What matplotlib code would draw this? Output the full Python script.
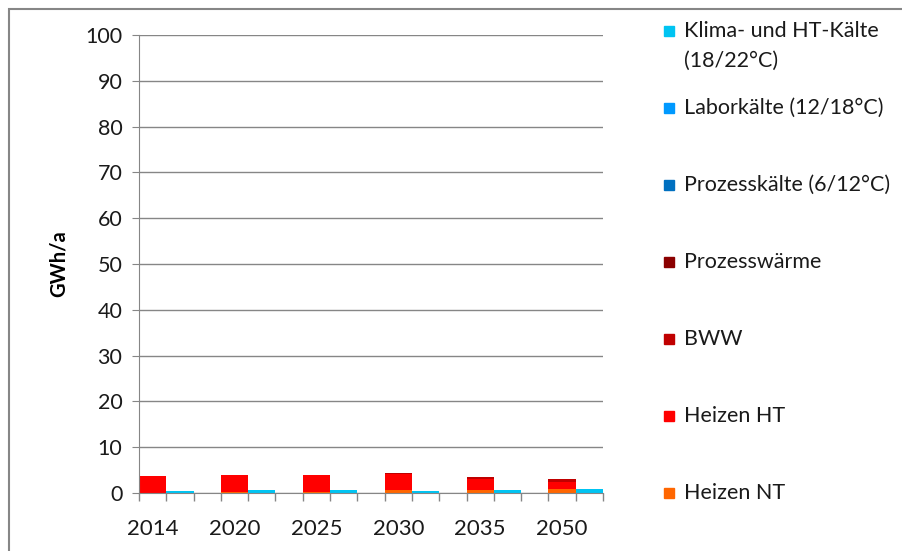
import numpy as np
import matplotlib.pyplot as plt
from matplotlib.patches import Rectangle

plt.rcParams['font.family'] = ['Lato', 'DejaVu Sans']

years = ['2014', '2020', '2025', '2030', '2035', '2050']

# heat demand components (GWh/a)
heizen_nt = [0.0, 0.3, 0.3, 0.6, 0.6, 0.8]
heizen_ht = [3.7, 3.7, 3.7, 3.5, 2.45, 1.65]
bww = [0.0, 0.0, 0.0, 0.3, 0.35, 0.6]
prozesswaerme = [0.0, 0.0, 0.0, 0.0, 0.0, 0.0]

# cold demand components (GWh/a)
prozesskaelte = [0.0, 0.0, 0.0, 0.0, 0.0, 0.0]
laborkaelte = [0.0, 0.0, 0.0, 0.0, 0.0, 0.0]
klima_kaelte = [0.35, 0.6, 0.6, 0.5, 0.55, 0.95]

heat_series = [
    ('Heizen NT', heizen_nt, '#FF6600'),
    ('Heizen HT', heizen_ht, '#FF0000'),
    ('BWW', bww, '#C00000'),
    ('Prozesswärme', prozesswaerme, '#8B0000'),
]
cold_series = [
    ('Prozesskälte (6/12°C)', prozesskaelte, '#0070C0'),
    ('Laborkälte (12/18°C)', laborkaelte, '#0099FF'),
    ('Klima- und HT-Kälte\n(18/22°C)', klima_kaelte, '#00C4F2'),
]

fig = plt.figure(figsize=(9.02, 5.51), dpi=100)
ax = fig.add_axes([139 / 902, 58 / 551, 464 / 902, 458 / 551])

# each year gets a heat slot, a cold slot and an empty gap slot
x_heat = np.arange(len(years)) * 3
x_cold = x_heat + 1

bottom = np.zeros(len(years))
for name, vals, col in heat_series:
    ax.bar(x_heat, vals, width=1.0, bottom=bottom, color=col, linewidth=0)
    bottom += np.array(vals)

bottom = np.zeros(len(years))
for name, vals, col in cold_series:
    ax.bar(x_cold, vals, width=1.0, bottom=bottom, color=col, linewidth=0)
    bottom += np.array(vals)

ax.set_xlim(-0.5, x_cold[-1] + 0.5)
ax.set_ylim(0, 100)
ax.set_yticks(np.arange(0, 101, 10))
ax.tick_params(axis='y', labelsize=15.5, length=5, color='#868686', pad=7,
               labelcolor='#1a1a1a')
ax.yaxis.grid(True, color='#868686', lw=1)
ax.set_axisbelow(True)

ax.set_xticks(x_heat)
ax.set_xticklabels(years, fontsize=16, color='#1a1a1a')
ax.tick_params(axis='x', which='major', length=0, pad=19)
ax.set_xticks(np.arange(-0.5, x_cold[-1] + 1, 1), minor=True)
ax.tick_params(axis='x', which='minor', length=6, color='#868686', width=1)

for s in ('top', 'right'):
    ax.spines[s].set_visible(False)
for s in ('left', 'bottom'):
    ax.spines[s].set_color('#868686')

ax.set_ylabel('GWh/a', fontsize=14.5, fontweight='bold', labelpad=12)

# legend on the right, top entry is the last stacked series
legend_items = [cold_series[2], cold_series[1], cold_series[0],
                heat_series[3], heat_series[2], heat_series[1], heat_series[0]]
for i, (name, vals, col) in enumerate(legend_items):
    y_px = 32 + i * 77
    fig.patches.append(Rectangle((664 / 902, 1 - (y_px + 4) / 551), 10 / 902, 10 / 551,
                                 transform=fig.transFigure, color=col))
    fig.text(684 / 902, 1 - (y_px - 11) / 551, name, fontsize=15.5, va='top',
             ha='left', color='#1a1a1a', linespacing=1.6)

# outer chart frame
fig.patches.append(Rectangle((9 / 902, -0.05), 1.0, 1 - 9 / 551 + 0.05,
                             transform=fig.transFigure, fill=False,
                             edgecolor='#868686', lw=1.5))

fig.savefig('out.png', dpi=100)
